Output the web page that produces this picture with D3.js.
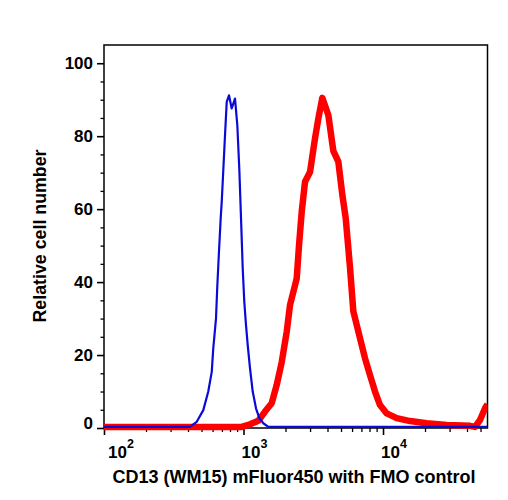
<!DOCTYPE html>
<html><head><meta charset="utf-8">
<script src="https://cdn.jsdelivr.net/npm/d3@7"></script>
<style>body{margin:0;background:#fff}</style>
</head><body>
<svg id="c" width="508" height="500"></svg>
<script>
// FMO control (blue) histogram
const blueX = [100, 413, 462, 515, 559, 592, 607, 635, 649, 667, 686, 698, 717, 737, 758, 787, 823, 869, 903, 933, 960, 987, 1013, 1042, 1072, 1113, 1164, 1229, 1298, 1387, 1506, 56100];
const blueY = [0.3, 0.3, 1.7, 4.9, 10, 15.4, 21.8, 30, 39, 48.3, 57.4, 62, 71, 80.3, 89.4, 91.2, 87.6, 90.3, 83, 71, 57.4, 43.8, 34.6, 28.2, 22.7, 16.4, 10, 5.4, 2.7, 1.3, 0.3, 0.3];
// CD13 (WM15) mFluor450 stained (red) histogram
const redX = [100, 970, 1113, 1277, 1426, 1593, 1730, 1878, 2041, 2154, 2275, 2406, 2499, 2614, 2760, 2998, 3254, 3438, 3672, 4055, 4402, 4782, 5108, 5403, 5800, 6126, 6841, 7430, 8068, 8762, 9517, 10630, 12540, 15620, 20580, 28620, 42050, 45640, 49580, 53850, 56100];
const redY = [0.3, 0.3, 1, 2, 4.5, 6.8, 11.8, 18, 26.4, 33.7, 37.3, 41, 50, 59.3, 67.5, 70.2, 79.4, 84.8, 90.5, 85.8, 76, 73, 64, 57.5, 44, 32, 24.6, 19.1, 14.5, 10, 6.3, 4, 2.7, 1.9, 1.3, 0.8, 0.6, 0.3, 2.2, 5.4, 6.5];
const yTicks = [0, 20, 40, 60, 80, 100];
const xExps = [2, 3, 4];
const xTitle = "CD13 (WM15) mFluor450 with FMO control";
const yTitle = "Relative cell number";

const svg = d3.select("#c");
const L = 104, R = 487.5, T = 45, B = 428;
const x = d3.scaleLog().domain([100, 56100]).range([L, R]);
const y = d3.scaleLinear().domain([0, 105]).range([B, T]);
const font = "'Liberation Sans', Arial, Helvetica, sans-serif";

svg.append("defs").append("clipPath").attr("id", "clip")
  .append("rect").attr("x", L).attr("y", T).attr("width", R - L).attr("height", B - T + 3);

// y axis
const yMinor = d3.range(0, 101, 5).filter(v => v % 20 !== 0);
svg.append("g").attr("transform", `translate(${L},0)`)
  .call(d3.axisLeft(y).tickValues(yMinor).tickSize(3.5).tickFormat(""))
  .call(g => g.select(".domain").remove())
  .call(g => g.selectAll("line").attr("stroke", "#000").attr("stroke-width", 1.3));
svg.append("g").attr("transform", `translate(${L},0)`)
  .call(d3.axisLeft(y).tickValues(yTicks).tickSize(7).tickPadding(4).tickFormat(d3.format("d")))
  .call(g => g.select(".domain").remove())
  .call(g => g.selectAll("line").attr("stroke", "#000").attr("stroke-width", 1.6))
  .call(g => g.selectAll("text").attr("font-family", font).attr("font-size", 17)
    .attr("font-weight", "bold").attr("fill", "#000")
    .attr("dy", d => d === 0 ? "0.05em" : "0.32em"));

// x axis
const xMajor = xExps.map(e => Math.pow(10, e));
const xMinor = [];
xExps.forEach(e => { for (let k = 2; k <= 9; k++) { const v = k * Math.pow(10, e); if (v <= 56100) xMinor.push(v); } });
svg.append("g").attr("transform", `translate(0,${B})`)
  .call(d3.axisBottom(x).tickValues(xMinor).tickSize(4).tickFormat(""))
  .call(g => g.select(".domain").remove())
  .call(g => g.selectAll("line").attr("stroke", "#000").attr("stroke-width", 1.3));
svg.append("g").attr("transform", `translate(0,${B})`)
  .call(d3.axisBottom(x).tickValues(xMajor).tickSize(7).tickFormat(""))
  .call(g => g.select(".domain").remove())
  .call(g => g.selectAll("line").attr("stroke", "#000").attr("stroke-width", 1.6));
const xl = svg.append("g");
xExps.forEach(e => {
  const t = xl.append("text").attr("x", Math.max(x(Math.pow(10, e)) - 2, 108)).attr("y", 458)
    .attr("font-family", font).attr("font-weight", "bold").attr("font-size", 17).attr("fill", "#000");
  t.append("tspan").text("10");
  t.append("tspan").attr("dy", -10).attr("font-size", 12.5).text(String(e));
});

// frame
svg.append("rect").attr("x", L).attr("y", T).attr("width", R - L).attr("height", B - T)
  .attr("fill", "none").attr("stroke", "#000").attr("stroke-width", 1.5);

// curves
const line = d3.line().x(d => x(d[0])).y(d => y(d[1]));
const cg = svg.append("g").attr("clip-path", "url(#clip)");
cg.append("path").datum(redX.map((v, i) => [v, redY[i]])).attr("d", line)
  .attr("fill", "none").attr("stroke", "#ff0000").attr("stroke-width", 6.5).attr("stroke-linejoin", "round");
cg.append("path").datum(blueX.map((v, i) => [v, blueY[i]])).attr("d", line)
  .attr("fill", "none").attr("stroke", "#0a0ad8").attr("stroke-width", 2.2).attr("stroke-linejoin", "round");

// titles
svg.append("text").attr("x", 294).attr("y", 483).attr("text-anchor", "middle")
  .attr("font-family", font).attr("font-weight", "bold").attr("font-size", 18).attr("fill", "#000").text(xTitle);
svg.append("text").attr("transform", `translate(46,${236}) rotate(-90)`).attr("text-anchor", "middle")
  .attr("font-family", font).attr("font-weight", "bold").attr("font-size", 17.8).attr("fill", "#000").text(yTitle);
</script>
</body></html>
